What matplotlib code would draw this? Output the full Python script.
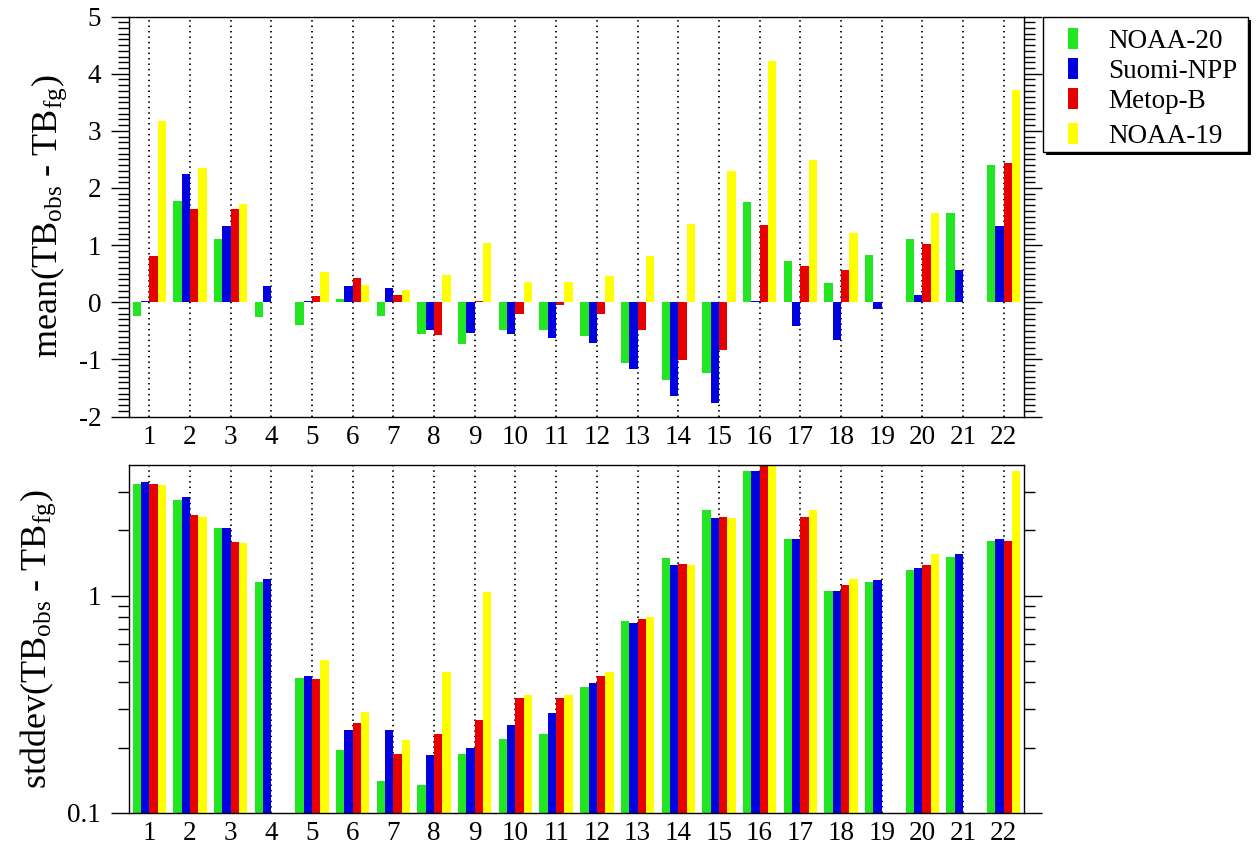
import numpy as np
import matplotlib
matplotlib.use("Agg")
import matplotlib.pyplot as plt
from matplotlib.ticker import MultipleLocator, FixedLocator, NullFormatter
from matplotlib.patches import Rectangle

# ---------------------------------------------------------------- data
channels = list(range(1, 23))
satellites = ["NOAA-20", "Suomi-NPP", "Metop-B", "NOAA-19"]
sat_colors = ["#22e622", "#0000e0", "#e60000", "#ffff00"]

nan = np.nan

# mean(TB_obs - TB_fg) per channel
mean_noaa20 = [-0.24, 1.78, 1.10, -0.26, -0.39, 0.06, -0.24, -0.55, -0.73, -0.48, -0.48,
               -0.59, -1.07, -1.36, -1.23, 1.75, 0.73, 0.34, 0.83, 1.10, 1.56, 2.41]
mean_snpp = [0.03, 2.25, 1.33, 0.28, 0.02, 0.28, 0.25, -0.48, -0.54, -0.56, -0.63,
             -0.71, -1.16, -1.64, -1.76, 0.03, -0.42, -0.66, -0.11, 0.13, 0.56, 1.33]
mean_metopb = [0.81, 1.63, 1.63, nan, 0.11, 0.42, 0.12, -0.58, 0.03, -0.20, -0.05,
               -0.20, -0.48, -1.01, -0.83, 1.35, 0.64, 0.57, nan, 1.02, nan, 2.44]
mean_noaa19 = [3.18, 2.35, 1.72, nan, 0.53, 0.31, 0.22, 0.47, 1.04, 0.35, 0.35,
               0.46, 0.81, 1.37, 2.29, 4.22, 2.49, 1.22, nan, 1.56, nan, 3.71]

# stddev(TB_obs - TB_fg) per channel
std_noaa20 = [3.27, 2.75, 2.06, 1.16, 0.42, 0.194, 0.140, 0.134, 0.187, 0.220, 0.231,
              0.379, 0.768, 1.50, 2.475, 3.75, 1.82, 1.047, 1.16, 1.316, 1.51, 1.79]
std_snpp = [3.33, 2.86, 2.06, 1.19, 0.429, 0.240, 0.240, 0.185, 0.199, 0.253, 0.289,
            0.395, 0.746, 1.38, 2.275, 3.75, 1.82, 1.047, 1.18, 1.34, 1.56, 1.82]
std_metopb = [3.28, 2.36, 1.76, nan, 0.414, 0.260, 0.187, 0.231, 0.269, 0.339, 0.339,
              0.429, 0.782, 1.40, 2.31, 4.10, 2.31, 1.12, nan, 1.38, nan, 1.79]
std_noaa19 = [3.22, 2.31, 1.75, nan, 0.508, 0.291, 0.217, 0.444, 1.036, 0.350, 0.350,
              0.444, 0.80, 1.38, 2.29, 4.20, 2.475, 1.20, nan, 1.55, nan, 3.75]

mean_series = [mean_noaa20, mean_snpp, mean_metopb, mean_noaa19]
std_series = [std_noaa20, std_snpp, std_metopb, std_noaa19]

# ---------------------------------------------------------------- style
plt.rcParams.update({
    "font.family": ["Liberation Serif", "DejaVu Serif"],
    "mathtext.fontset": "custom",
    "mathtext.rm": "Liberation Serif",
    "mathtext.it": "Liberation Serif:italic",
    "mathtext.bf": "Liberation Serif:bold",
    "axes.unicode_minus": False,
    "axes.linewidth": 1.0,
})

W, H = 1256, 848
fig = plt.figure(figsize=(W / 100, H / 100), dpi=100)


def px_box(left, top, right, bottom):
    return [left / W, 1 - bottom / H, (right - left) / W, (bottom - top) / H]


ax1 = fig.add_axes(px_box(129, 16.5, 1024, 416.5))
ax2 = fig.add_axes(px_box(129, 465, 1024, 813))

x = np.array(channels, dtype=float)
bar_w = 0.205
offsets = (np.arange(len(satellites)) - 1.5) * bar_w

ax2.set_yscale("log")

for ax, series in ((ax1, mean_series), (ax2, std_series)):
    for off, vals, col in zip(offsets, series, sat_colors):
        v = np.asarray(vals, dtype=float)
        ok = ~np.isnan(v)
        ax.bar(x[ok] + off, v[ok], width=bar_w, color=col, linewidth=0, zorder=2)
    ax.set_xlim(0.5, 22.5)
    ax.set_xticks(x)
    ax.set_xticklabels([str(c) for c in channels])
    ax.set_axisbelow(True)
    ax.grid(axis="x", color="black", linestyle=(0, (0.8, 2.2)), linewidth=1.3)
    ax.tick_params(axis="x", length=0, pad=6, labelsize=19.5)
    ax.tick_params(axis="y", which="both", direction="out", left=True, right=True,
                   labelsize=19.5, pad=7, width=1.0)
    ax.tick_params(axis="y", which="major", length=13)
    ax.tick_params(axis="y", which="minor", length=8)

# upper panel: mean departures
ax1.set_ylim(-2, 5)
ax1.yaxis.set_major_locator(MultipleLocator(1))
ax1.yaxis.set_minor_locator(MultipleLocator(0.1))
ax1.set_ylabel(r"mean(TB$_{\rm obs}$ - TB$_{\rm fg}$)", fontsize=26)
ax1.yaxis.set_label_coords(-0.067, 0.5)

# lower panel: standard deviation on a log axis
ax2.set_ylim(0.1, 4.0)
ax2.yaxis.set_major_locator(FixedLocator([0.1, 1.0]))
ax2.set_yticklabels(["0.1", "1"])
ax2.yaxis.set_minor_locator(FixedLocator([0.2, 0.3, 0.4, 0.5, 0.6, 0.7, 0.8, 0.9, 2.0, 3.0]))
ax2.yaxis.set_minor_formatter(NullFormatter())
ax2.set_ylabel(r"stddev(TB$_{\rm obs}$ - TB$_{\rm fg}$)", fontsize=26)
ax2.yaxis.set_label_coords(-0.079, 0.5)

# ---------------------------------------------------------------- legend box
def fx(px):
    return px / W


def fy(py):
    return 1 - py / H


box_l, box_t, box_r, box_b = 1043, 17, 1248, 152
shadow = 2.5
fig.patches.append(Rectangle((fx(box_l + shadow), fy(box_b + shadow)),
                             fx(box_r - box_l), (box_b - box_t) / H,
                             transform=fig.transFigure, facecolor="black",
                             edgecolor="none", zorder=5))
fig.patches.append(Rectangle((fx(box_l), fy(box_b)), fx(box_r - box_l), (box_b - box_t) / H,
                             transform=fig.transFigure, facecolor="white",
                             edgecolor="black", linewidth=1.0, zorder=6))

row_baselines = [48, 78, 108, 143]
patch_l, patch_r, patch_h = 1068, 1078, 20
text_x = 1108
for name, col, base in zip(satellites, sat_colors, row_baselines):
    fig.patches.append(Rectangle((fx(patch_l), fy(base + 0.5)), fx(patch_r - patch_l),
                                 patch_h / H, transform=fig.transFigure,
                                 facecolor=col, edgecolor="none", zorder=7))
    fig.text(fx(text_x), fy(base), name, fontsize=19.5, ha="left", va="baseline",
             zorder=8)

fig.savefig("out.png", dpi=100, facecolor="white")
